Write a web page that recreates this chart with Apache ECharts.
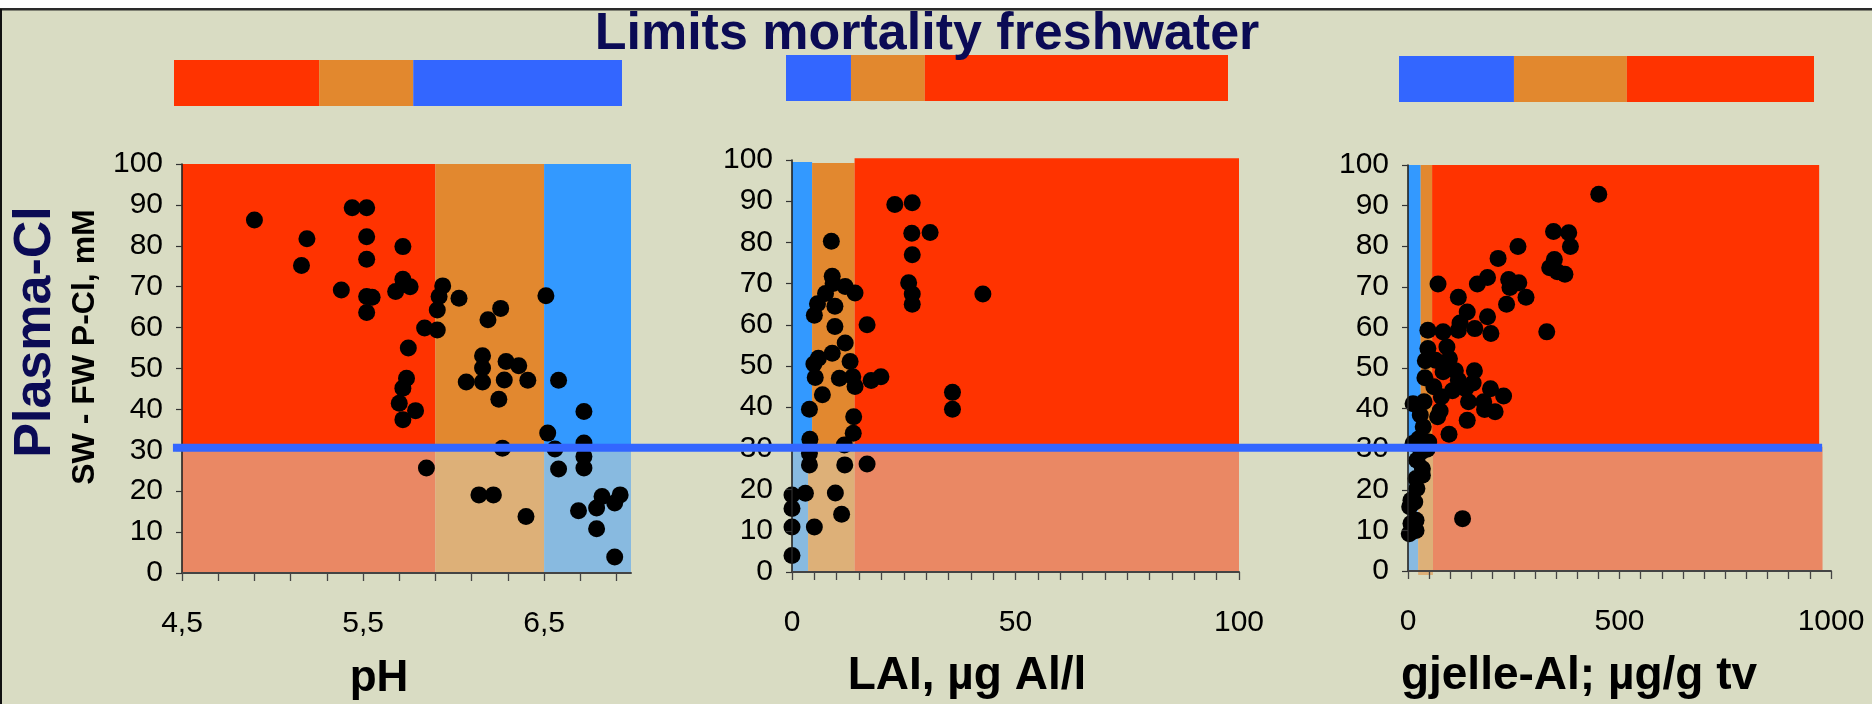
<!DOCTYPE html>
<html>
<head>
<meta charset="utf-8">
<script src="https://cdn.jsdelivr.net/npm/echarts@6/dist/echarts.min.js"></script>
<style>
html,body{margin:0;padding:0;background:#D9DCC3;}
#main{width:1872px;height:704px;}
</style>
</head>
<body>
<div id="main"></div>
<script>
// ---------------- DATA ----------------
const titleText = 'Limits mortality freshwater';
const yTitleMain = 'Plasma-Cl';
const yTitleSub = 'SW - FW P-Cl, mM';
const xTitles = ['pH', 'LAI, µg Al/l', 'gjelle-Al; µg/g tv'];

// Panel 1: pH vs plasma-Cl difference
const phX = [4.90,5.19,5.16,5.44,5.52,5.52,5.52,5.38,5.52,5.55,5.52,5.72,5.72,5.68,5.76,5.75,5.84,5.74,5.72,5.70,
             5.79,5.72,5.85,5.94,5.92,5.91,5.91,6.03,6.19,6.26,6.16,6.16,6.07,6.16,6.29,6.36,6.28,6.41,6.25,6.27,
             6.14,6.22,6.40,6.51,6.58,6.52,6.56,6.58,6.72,6.72,6.72,6.72,6.69,6.79,6.82,6.79,6.89,6.92,6.89];
const phY = [86.3,81.7,75.2,89.3,89.3,82.2,76.7,69.2,67.6,67.4,63.7,79.8,71.8,68.8,70.0,55.0,59.9,47.6,45.2,41.5,
             39.7,37.5,25.7,70.2,67.6,64.3,59.4,67.2,61.9,64.7,53.1,50.1,46.7,46.7,51.7,50.7,47.2,47.1,42.5,30.5,
             19.1,19.1,13.8,67.8,47.1,34.2,30.3,25.4,39.5,31.8,28.5,25.7,15.2,15.9,18.7,10.8,17.1,19.1,3.9];

// Panel 2: LAI
const laiX = [23.0,26.9,26.8,30.9,26.9,26.1,26.9,26.9,42.7,35.9,35.9,8.8,9.0,9.2,11.9,14.1,7.5,5.7,5.0,9.6,
              9.6,16.8,11.9,9.0,5.9,4.9,13.0,5.2,10.6,13.6,14.1,17.7,19.9,6.8,3.9,13.8,13.7,11.7,4.0,3.9,
              3.9,11.8,16.8,0,3.0,9.7,0,11.1,0,5.0,0];
const laiY = [89.2,89.6,82.2,82.4,77.0,70.2,67.5,65.0,67.5,43.6,39.5,80.3,71.8,70.0,69.3,67.7,67.6,65.1,62.3,64.5,
              59.6,60.0,55.6,53.1,51.9,50.5,51.1,47.2,47.0,47.4,45.0,46.5,47.4,43.0,39.5,37.7,33.7,30.8,32.2,28.8,
              26.0,26.0,26.2,18.7,19.1,19.2,15.4,14.0,10.9,10.9,4.0];

// Panel 3: gill Al
const gillX = [451,344,380,384,260,346,335,353,371,213,188,164,238,262,241,279,233,328,71,119,
               140,188,123,119,158,196,47,83,47,92,41,98,65,83,112,157,40,119,154,61,
               105,136,195,226,79,179,12,38,143,206,181,76,70,29,140,36,97,12,49,31,
               21,34,19,34,21,7,16,4,7,19,3,19,129,25,45];
const gillY = [92.8,83.6,83.3,79.9,79.9,76.7,74.7,73.7,73.1,77.0,72.3,70.7,71.8,71.0,69.8,67.4,65.7,58.9,70.7,67.4,
               63.8,62.6,61.1,59.3,59.7,58.5,59.3,58.9,54.8,55.2,51.8,52.3,51.9,49.1,49.3,49.3,47.6,47.0,46.3,45.4,
               44.4,44.9,44.9,43.1,42.9,41.7,41.2,41.7,41.7,39.2,39.8,39.4,38.0,38.4,37.1,35.5,33.7,31.4,31.8,29.3,
               27.3,25.2,22.8,23.6,20.3,17.4,17.0,15.8,11.7,12.5,9.2,10.0,12.9,32.5,30.0];

// Zones: [xFrom, xTo, yFrom, yTo, kind]
const phZones = [
  [4.5, 5.9, 30.6, 100, 'red'], [5.9, 6.5, 30.6, 100, 'orange'], [6.5, 6.98, 30.6, 100, 'blue'],
  [4.5, 5.9, 0, 30.6, 'redLow'], [5.9, 6.5, 0, 30.6, 'orangeLow'], [6.5, 6.98, 0, 30.6, 'blueLow']
];
const laiZones = [
  [0, 4.5, 30.6, 99.5, 'blue'], [4.5, 14, 30.6, 99.3, 'orange'], [14, 100, 30.6, 100.4, 'red'],
  [0, 3.6, 0, 30.6, 'blueLow'], [3.6, 14, 0, 30.6, 'orangeLow'], [14, 100, 0, 30.6, 'redLow']
];
const gillZones = [
  [0, 30, 30.6, 100, 'blue'], [30, 57, 30.6, 100, 'orange'], [57, 972, 30.6, 100, 'red'],
  [0, 24, 0, 30.6, 'blueLow'], [24, 59, -1, 30.6, 'orangeLow'], [59, 980, 0, 30.6, 'redLow']
];

// Limit line (plasma-Cl difference)
const limitValue = 30.6;
const limitFromPH = 4.45;
const limitToGill = 979;

// Top summary bars: share (%) of each segment, left to right
const bar1Parts = [32.4, 21.0, 46.6]; const bar1Kinds = ['red', 'orange', 'blue'];
const bar2Parts = [14.7, 16.7, 68.6]; const bar2Kinds = ['blue', 'orange', 'red'];
const bar3Parts = [27.7, 27.2, 45.1]; const bar3Kinds = ['blue', 'orange', 'red'];

// Tick definitions
const phTicks = [4.5,4.7,4.9,5.1,5.3,5.5,5.7,5.9,6.1,6.3,6.5,6.7,6.9];
const phLabels = [4.5, 5.5, 6.5];
const laiLabels = [0, 50, 100];
const gillLabels = [0, 500, 1000];

// ---------------- STYLE ----------------
const zoneColors = {
  red: '#FF3300', orange: '#E2882F', blue: '#3399FF',
  redLow: '#EA8864', orangeLow: '#DDB078', blueLow: '#88BAE0'
};
const barColors = { red: '#FF3300', orange: '#E2882E', blue: '#3366FF' };
const FONT = '"Liberation Sans", Arial, sans-serif';
const NAVY = '#0b0b55';

const chart = echarts.init(document.getElementById('main'), null, {renderer: 'canvas'});

function yAxisCfg(gi) {
  return {
    type: 'value', gridIndex: gi, min: 0, max: 100, interval: 10, z: 5,
    axisLine: {show: true, lineStyle: {color: '#222', width: 1.6}},
    axisTick: {show: true, length: 6, lineStyle: {color: '#333', width: 1.2}},
    axisLabel: {fontFamily: FONT, fontSize: 30, color: '#000', margin: 19},
    splitLine: {show: false}
  };
}
function xAxisCfg(gi, min, max, interval, labels, tickVals, fmt) {
  const ax = {
    type: 'value', gridIndex: gi, min: min, max: max, z: 5,
    axisLine: {show: true, onZero: false, lineStyle: {color: '#444', width: 2}},
    axisTick: {show: true, length: 8, lineStyle: {color: '#444', width: 1.3}},
    axisLabel: {fontFamily: FONT, fontSize: 30, color: '#000', margin: 36,
                customValues: labels, formatter: fmt || (v => String(v))},
    splitLine: {show: false}
  };
  if (interval) ax.interval = interval;
  if (tickVals) ax.axisTick.customValues = tickVals;
  return ax;
}

function zoneSeries(idx, zones) {
  return {
    type: 'custom', xAxisIndex: idx, yAxisIndex: idx, z: 1, silent: true, clip: false,
    encode: {x: [0, 1], y: [2, 3]},
    data: zones.map(z => [z[0], z[1], z[2], z[3]]),
    renderItem: function (params, api) {
      const p0 = api.coord([api.value(0), api.value(3)]);
      const p1 = api.coord([api.value(1), api.value(2)]);
      return {
        type: 'rect',
        shape: {x: p0[0], y: p0[1], width: p1[0] - p0[0], height: p1[1] - p0[1]},
        style: {fill: zoneColors[zones[params.dataIndex][4]]}
      };
    }
  };
}
function scatterSeries(idx, xs, ys) {
  return {
    type: 'scatter', xAxisIndex: idx, yAxisIndex: idx, z: 3, symbol: 'circle', symbolSize: 17,
    itemStyle: {color: '#000', opacity: 1}, silent: true,
    data: xs.map((x, i) => [x, ys[i]])
  };
}
function barSeries(idx, parts, kinds) {
  return parts.map((v, i) => ({
    type: 'bar', xAxisIndex: idx, yAxisIndex: idx, stack: 'b' + idx, barWidth: '100%',
    silent: true, data: [v], itemStyle: {color: barColors[kinds[i]]}
  }));
}

const option = {
  backgroundColor: '#D9DCC3',
  animation: false,
  grid: [
    {left: 182, top: 164, width: 449, height: 409},
    {left: 792, top: 160, width: 447, height: 412},
    {left: 1408, top: 165, width: 423, height: 406},
    {left: 174, top: 60, width: 448, height: 46},
    {left: 786, top: 55, width: 442, height: 46},
    {left: 1399, top: 56, width: 415, height: 46}
  ],
  xAxis: [
    xAxisCfg(0, 4.5, 6.98, 0.2, phLabels, phTicks, v => String(v).replace('.', ',')),
    xAxisCfg(1, 0, 100, 5, laiLabels, null),
    xAxisCfg(2, 0, 1000, 50, gillLabels, null),
    {type: 'value', gridIndex: 3, min: 0, max: 100, show: false},
    {type: 'value', gridIndex: 4, min: 0, max: 100, show: false},
    {type: 'value', gridIndex: 5, min: 0, max: 100, show: false}
  ],
  yAxis: [
    yAxisCfg(0), yAxisCfg(1), yAxisCfg(2),
    {type: 'category', gridIndex: 3, data: ['a'], show: false},
    {type: 'category', gridIndex: 4, data: ['a'], show: false},
    {type: 'category', gridIndex: 5, data: ['a'], show: false}
  ],
  series: [
    zoneSeries(0, phZones), zoneSeries(1, laiZones), zoneSeries(2, gillZones),
    scatterSeries(0, phX, phY), scatterSeries(1, laiX, laiY), scatterSeries(2, gillX, gillY)
  ].concat(barSeries(3, bar1Parts, bar1Kinds), barSeries(4, bar2Parts, bar2Kinds), barSeries(5, bar3Parts, bar3Kinds)),
  graphic: [
    {type: 'rect', z: 100, shape: {x: 0, y: 0, width: 1872, height: 8}, style: {fill: '#ffffff'}},
    {type: 'line', z: 100, shape: {x1: 0, y1: 9.3, x2: 1872, y2: 9.3}, style: {stroke: '#2a2a2a', lineWidth: 2.6}},
    {type: 'line', z: 100, shape: {x1: 1, y1: 9, x2: 1, y2: 704}, style: {stroke: '#111', lineWidth: 2}},
    {type: 'text', z: 100, x: 927, y: 35,
     style: {text: titleText, font: 'bold 52px ' + FONT, fill: NAVY, textAlign: 'center', textVerticalAlign: 'middle'}},
    {type: 'text', z: 100, x: 36, y: 332, rotation: Math.PI / 2,
     style: {text: yTitleMain, font: 'bold 52px ' + FONT, fill: NAVY, textAlign: 'center', textVerticalAlign: 'middle'}},
    {type: 'text', z: 100, x: 85, y: 347, rotation: Math.PI / 2,
     style: {text: yTitleSub, font: 'bold 32px ' + FONT, fill: '#000', textAlign: 'center', textVerticalAlign: 'middle'}},
    {type: 'text', z: 100, x: 379, y: 679,
     style: {text: xTitles[0], font: 'bold 44px ' + FONT, fill: '#000', textAlign: 'center', textVerticalAlign: 'middle'}},
    {type: 'text', z: 100, x: 967, y: 676,
     style: {text: xTitles[1], font: 'bold 46px ' + FONT, fill: '#000', textAlign: 'center', textVerticalAlign: 'middle'}},
    {type: 'text', z: 100, x: 1579, y: 676,
     style: {text: xTitles[2], font: 'bold 46px ' + FONT, fill: '#000', textAlign: 'center', textVerticalAlign: 'middle'}}
  ]
};
chart.setOption(option);

// Limit line drawn through the panel scales
const yLim = chart.convertToPixel({yAxisIndex: 0}, limitValue);
const xA = chart.convertToPixel({xAxisIndex: 0}, limitFromPH);
const xB = chart.convertToPixel({xAxisIndex: 2}, limitToGill);
chart.setOption({
  graphic: [{id: 'limit', type: 'line', z: 90,
    shape: {x1: xA, y1: yLim, x2: xB, y2: yLim},
    style: {stroke: '#3366FF', lineWidth: 8}}]
});
</script>
</body>
</html>
